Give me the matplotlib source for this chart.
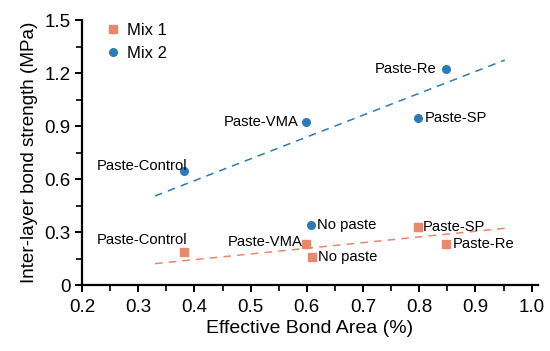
import matplotlib.pyplot as plt
from matplotlib.ticker import MultipleLocator

plt.rcParams["font.family"] = ["Liberation Sans", "DejaVu Sans"]

# Mix 1 (squares)
mix1_x = [0.381, 0.599, 0.609, 0.797, 0.847]
mix1_y = [0.187, 0.232, 0.158, 0.327, 0.230]
mix1_labels = ["Paste-Control", "Paste-VMA", "No paste", "Paste-SP", "Paste-Re"]

# Mix 2 (circles)
mix2_x = [0.381, 0.599, 0.608, 0.797, 0.847]
mix2_y = [0.645, 0.922, 0.340, 0.947, 1.224]
mix2_labels = ["Paste-Control", "Paste-VMA", "No paste", "Paste-SP", "Paste-Re"]

# dashed trend lines (endpoints)
trend_x = [0.33, 0.952]
trend1_y = [0.121, 0.321]
trend2_y = [0.504, 1.273]

orange = "#E9886A"
blue = "#2B7BB6"

# label offsets in pixels (dx, dy, ha)
mix1_offsets = [(4, 12, "right"), (-4, 2, "right"), (6, 0, "left"), (5, 0, "left"), (7, 0, "left")]
mix2_offsets = [(4, 5, "right"), (-8, 0, "right"), (6, 0, "left"), (7, 0, "left"), (-9, 0, "right")]

fig = plt.figure(figsize=(5.5, 3.51), dpi=100)
ax = fig.add_axes([0.149, 0.188, 0.829, 0.755])

ax.plot(trend_x, trend2_y, ls=(0, (5, 4)), color=blue, lw=1.1)
ax.plot(trend_x, trend1_y, ls=(0, (5, 4)), color=orange, lw=1.1)
ax.plot(mix1_x, mix1_y, "s", color=orange, ms=5.2, ls="none", label="Mix 1")
ax.plot(mix2_x, mix2_y, "o", color=blue, ms=5.5, ls="none", label="Mix 2")

px = 72 / 100
for x, y, lab, (dx, dy, ha) in zip(mix1_x, mix1_y, mix1_labels, mix1_offsets):
    ax.annotate(lab, (x, y), xytext=(dx * px, dy * px), textcoords="offset points",
                ha=ha, va="center", fontsize=10.6)
for x, y, lab, (dx, dy, ha) in zip(mix2_x, mix2_y, mix2_labels, mix2_offsets):
    ax.annotate(lab, (x, y), xytext=(dx * px, dy * px), textcoords="offset points",
                ha=ha, va="center", fontsize=10.6)

ax.set_xlim(0.2, 1.011)
ax.set_ylim(0, 1.5)
ax.xaxis.set_minor_locator(MultipleLocator(0.05))
ax.yaxis.set_minor_locator(MultipleLocator(0.15))
ax.set_xticks([0.2, 0.3, 0.4, 0.5, 0.6, 0.7, 0.8, 0.9, 1.0])
ax.set_xticklabels(["0.2", "0.3", "0.4", "0.5", "0.6", "0.7", "0.8", "0.9", "1.0"])
ax.set_yticks([0, 0.3, 0.6, 0.9, 1.2, 1.5])
ax.set_yticklabels(["0", "0.3", "0.6", "0.9", "1.2", "1.5"])

for s in ["top", "right"]:
    ax.spines[s].set_visible(False)
for s in ["left", "bottom"]:
    ax.spines[s].set_linewidth(1.6)
ax.tick_params(which="major", length=5, width=1.4, labelsize=13.5, direction="out", pad=3)
ax.tick_params(axis="x", which="major", pad=5)
ax.tick_params(which="minor", length=4, width=1.2, direction="out")

ax.set_xlabel("Effective Bond Area (%)", fontsize=14, labelpad=3)
ax.set_ylabel("Inter-layer bond strength (MPa)", fontsize=13.6, labelpad=5)

ax.legend(loc="upper left", bbox_to_anchor=(0.018, 1.045), frameon=False, fontsize=12,
          handletextpad=0.3, labelspacing=0.45, handlelength=1.0)

fig.savefig("out.png", dpi=100)
